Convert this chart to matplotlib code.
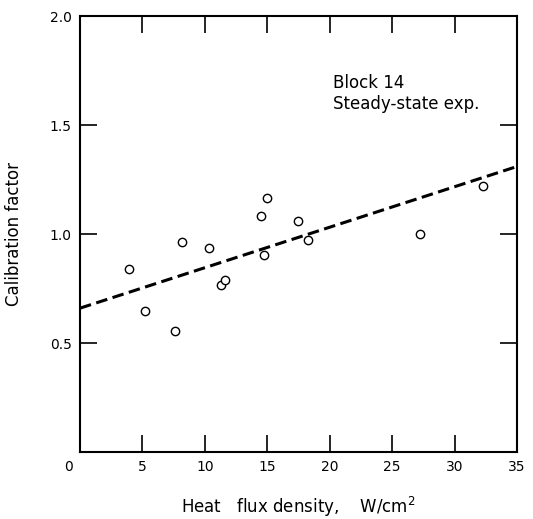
import matplotlib
matplotlib.use('Agg')
import matplotlib.pyplot as plt
import numpy as np

# measured points: heat flux density (W/cm^2) vs calibration factor
flux = [3.9, 5.2, 7.6, 8.2, 10.3, 11.3, 11.6, 14.5, 15.0, 14.7, 17.5, 18.3, 27.2, 32.3]
factor = [0.84, 0.645, 0.555, 0.965, 0.935, 0.765, 0.79, 1.085, 1.165, 0.905, 1.06, 0.975, 1.0, 1.22]

# fitted line end points
fit_x = [0.0, 35.0]
fit_y = [0.66, 1.31]

xticks = [5, 10, 15, 20, 25, 30, 35]
yticks = [0.5, 1.0, 1.5, 2.0]

plt.rcParams['font.family'] = 'DejaVu Sans'

fig = plt.figure(figsize=(5.33, 5.19), dpi=100)
ax = fig.add_axes([0.150, 0.129, 0.820, 0.840])

ax.plot(fit_x, fit_y, color='black', lw=2.2, ls=(0, (3.8, 1.8)))
ax.plot(flux, factor, ls='none', marker='o', ms=6, mfc='white', mec='black', mew=1.0)

ax.set_xlim(0, 35)
ax.set_ylim(0, 2.0)
ax.set_xticks(xticks)
ax.set_yticks(yticks)
ax.set_yticklabels(['0.5', '1.0', '1.5', '2.0'])
ax.tick_params(direction='in', length=12, width=1.2, top=True, right=True,
               labelsize=10, pad=6)
for s in ax.spines.values():
    s.set_linewidth(1.5)

ax.annotate('0', xy=(0, 0), xycoords='data', xytext=(-8, -6),
            textcoords='offset points', ha='center', va='top', fontsize=10)

ax.text(0.578, 0.846, 'Block 14', transform=ax.transAxes, fontsize=12, va='center')
ax.text(0.578, 0.798, 'Steady-state exp.', transform=ax.transAxes, fontsize=12, va='center')

ax.set_xlabel('Heat   flux density,    W/cm$^2$', fontsize=12, labelpad=15)
ax.set_ylabel('Calibration factor', fontsize=12, labelpad=19)

fig.savefig('out.png', dpi=100)
